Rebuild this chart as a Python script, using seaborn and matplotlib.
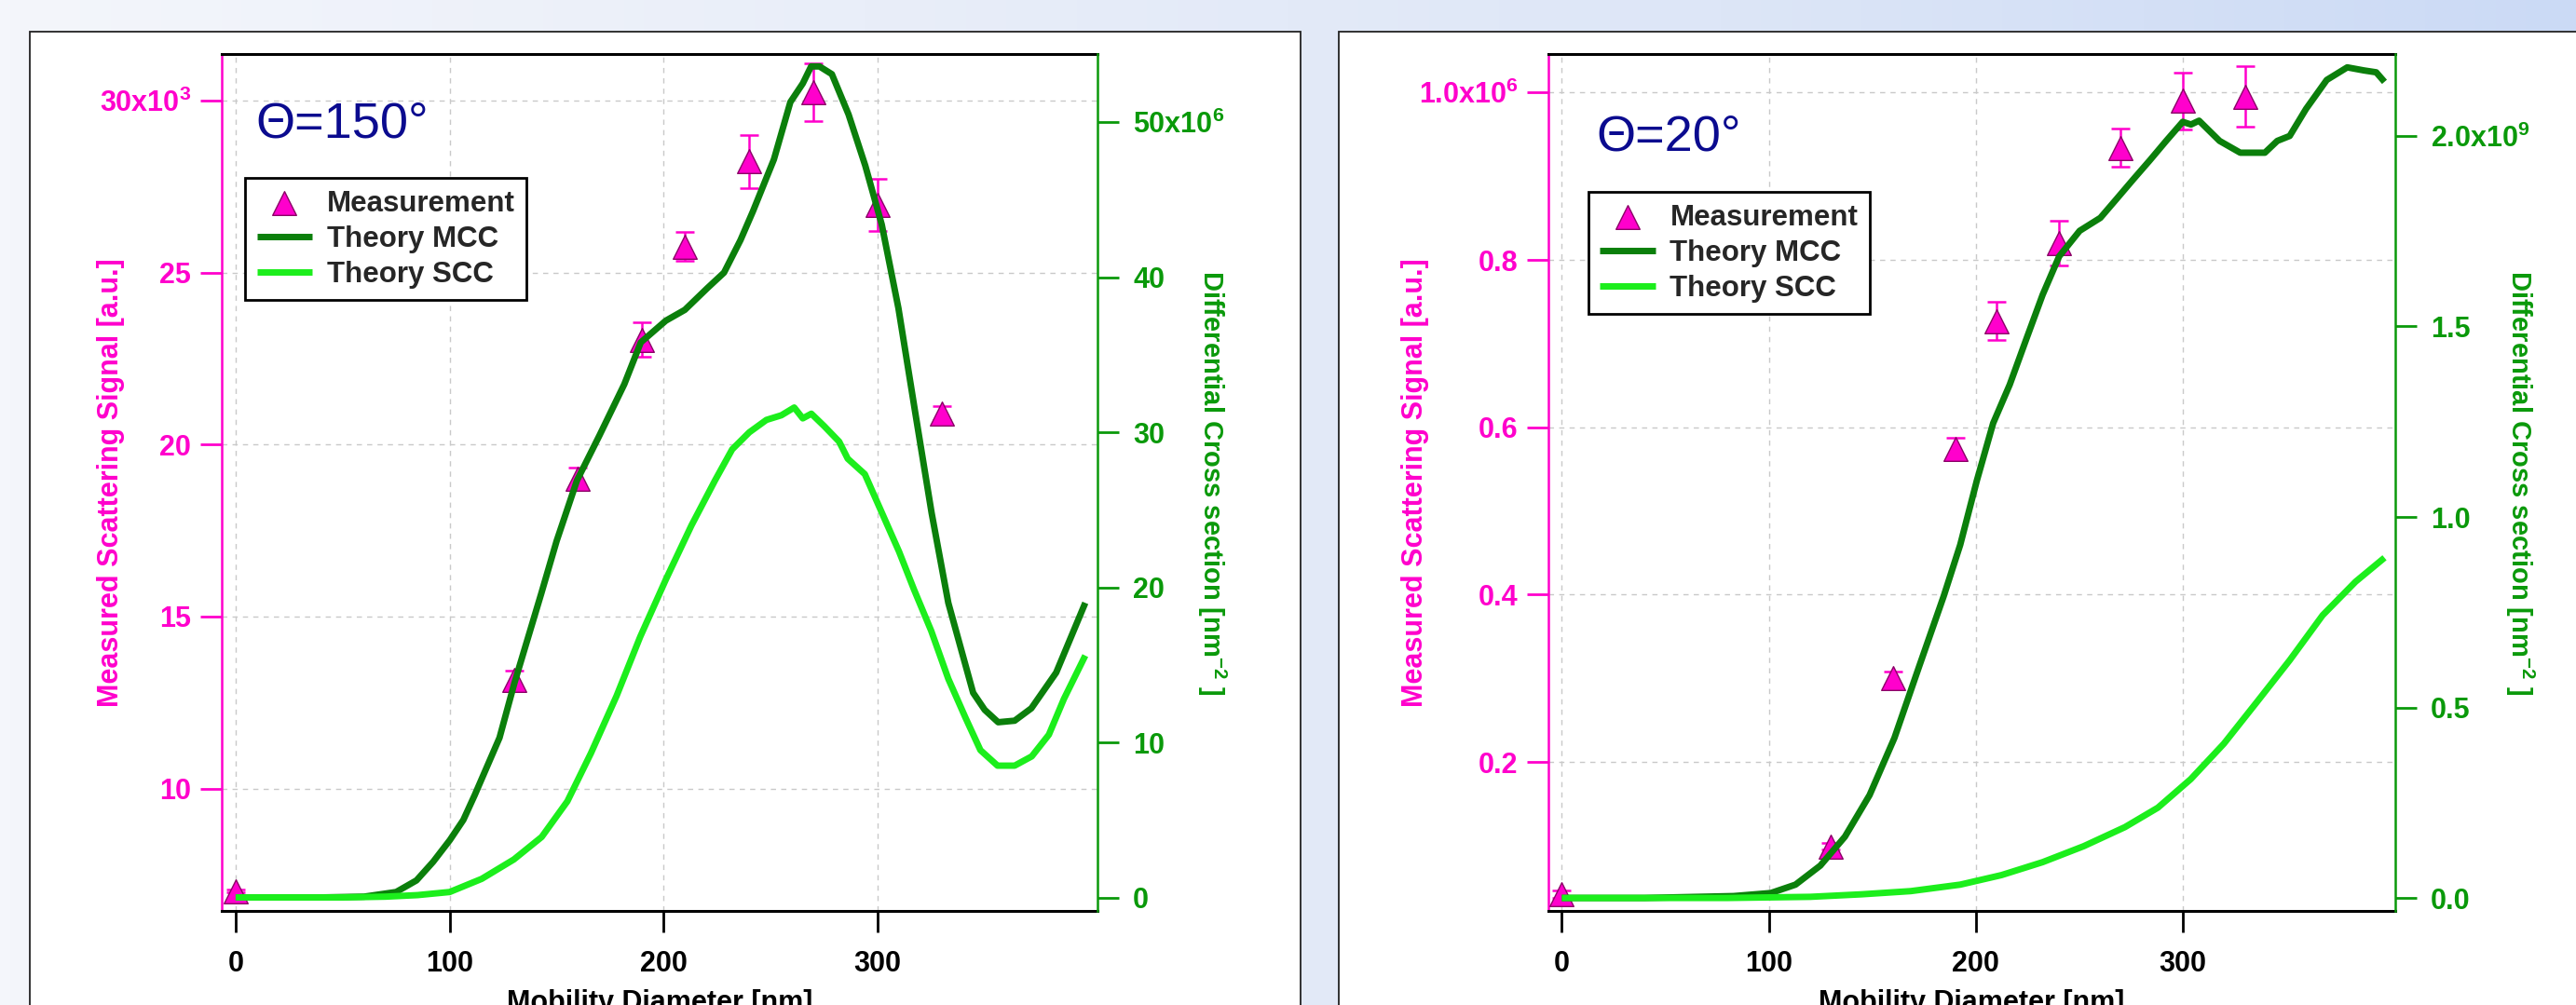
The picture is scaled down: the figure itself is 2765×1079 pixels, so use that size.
import numpy as np
import pandas as pd
import matplotlib
matplotlib.use("Agg")
import matplotlib.pyplot as plt
import seaborn as sns
from matplotlib.patches import Rectangle
from matplotlib.colors import LinearSegmentedColormap

# ---------------- data ----------------
# Theta = 150 deg panel
meas_d150 = [0, 130, 160, 190, 210, 240, 270, 300, 330]
meas_s150 = [7.02, 13.17, 19.0, 23.05, 25.76, 28.24, 30.24, 26.97, 20.91]      # x10^3 a.u.
meas_e150 = [0.05, 0.25, 0.33, 0.5, 0.42, 0.77, 0.84, 0.75, 0.2]

mcc_d150 = [0, 20, 40, 60, 75, 84.5, 92.3, 100.1, 106.4, 111.7, 123.3, 130.3, 142.8, 150, 159.5, 170, 181.6,
            189.3, 201, 209.9, 220.4, 228.2, 235.9, 241.7, 251.5, 259.2, 265, 268.9, 272.8, 278.6,
            286.4, 294.2, 301.9, 309.7, 317.4, 325.2, 333, 344.6, 350, 356.3, 364, 371.8, 383.4, 397]
mcc_v150 = [0, 0, 0, 0.05, 0.35, 1.1, 2.3, 3.7, 5.0, 6.6, 10.3, 13.85, 19.6, 23.0, 26.9, 29.8, 33.1,
            35.8, 37.2, 37.9, 39.3, 40.3, 42.4, 44.25, 47.6, 51.3, 52.5, 53.6, 53.6, 53.1,
            50.5, 47.2, 43.4, 38.0, 31.4, 24.8, 19.0, 13.2, 12.1, 11.3, 11.4, 12.2, 14.5, 19.0]  # x10^6 nm^-2

scc_d150 = [0, 50, 70, 85, 100, 115, 130, 143, 155, 166, 178, 189, 201, 213, 224, 232, 240, 248, 255,
            261, 265, 269, 275, 282, 286, 294, 302, 310, 317, 325, 333, 341, 348, 356, 364, 372,
            380, 387, 397]
scc_v150 = [0, 0, 0.05, 0.15, 0.35, 1.2, 2.45, 3.9, 6.2, 9.3, 13.0, 16.8, 20.5, 24.0, 26.9, 28.9, 30.0,
            30.8, 31.1, 31.6, 30.9, 31.2, 30.4, 29.4, 28.3, 27.3, 24.8, 22.3, 19.85, 17.2, 14.1, 11.6,
            9.5, 8.5, 8.5, 9.1, 10.5, 12.8, 15.6]

# Theta = 20 deg panel
meas_d20 = [0, 130, 160, 190, 210, 240, 270, 300, 330]
meas_s20 = [0.042, 0.099, 0.30, 0.574, 0.727, 0.82, 0.934, 0.990, 0.995]      # x10^6 a.u.
meas_e20 = [0.004, 0.004, 0.008, 0.013, 0.023, 0.027, 0.023, 0.034, 0.036]

mcc_d20 = [0, 40, 83, 101, 112.9, 124.9, 136.8, 148.7, 160.7, 172.6, 184.5, 192.5, 200.5, 208.4,
           216.4, 224.3, 232.3, 240.3, 250.2, 260.2, 268.1, 276.1, 284.1, 292, 300, 304, 307.9,
           317.8, 327.8, 339.7, 345.7, 351.7, 359.6, 369.6, 379.5, 387.5, 393.5, 397.5]
mcc_v20 = [0, 0, 0.005, 0.013, 0.035, 0.085, 0.161, 0.27, 0.42, 0.607, 0.792, 0.927, 1.095, 1.246,
           1.347, 1.465, 1.583, 1.684, 1.751, 1.785, 1.835, 1.886, 1.936, 1.987, 2.037, 2.03, 2.04,
           1.987, 1.956, 1.956, 1.987, 2.0, 2.071, 2.147, 2.18, 2.172, 2.167, 2.142]       # x10^9 nm^-2

scc_d20 = [0, 80, 120, 144.8, 168.6, 192.5, 212.4, 232.3, 252.2, 272.1, 288, 303.9, 319.9, 335.8,
           351.7, 367.6, 383.5, 397.5]
scc_v20 = [0, 0, 0.003, 0.0096, 0.018, 0.035, 0.06, 0.094, 0.136, 0.186, 0.237, 0.312, 0.405, 0.514,
           0.624, 0.742, 0.83, 0.893]

x_ticks = [0, 100, 200, 300]
x_ticklabels = ["0", "100", "200", "300"]
y150_ticks = [10, 15, 20, 25, 30]
y150_labels = ["10", "15", "20", "25", r"30x10$^{\mathbf{3}}$"]
y2_150_ticks = [0, 10, 20, 30, 40, 50]
y2_150_labels = ["0", "10", "20", "30", "40", r"50x10$^{\mathbf{6}}$"]
y20_ticks = [0.2, 0.4, 0.6, 0.8, 1.0]
y20_labels = ["0.2", "0.4", "0.6", "0.8", r"1.0x10$^{\mathbf{6}}$"]
y2_20_ticks = [0.0, 0.5, 1.0, 1.5, 2.0]
y2_20_labels = ["0.0", "0.5", "1.0", "1.5", r"2.0x10$^{\mathbf{9}}$"]

series_names = ["Measurement", "Theory MCC", "Theory SCC"]
x_label = "Mobility Diameter [nm]"
y_label = "Measured Scattering Signal [a.u.]"
y2_label = r"Differential Cross section [nm$^{\mathbf{-2}}$ ]"

# ---------------- style ----------------
sns.set_theme(style="ticks")
plt.rcParams["font.family"] = ["Liberation Sans", "DejaVu Sans"]
plt.rcParams["font.weight"] = "bold"
plt.rcParams["mathtext.fontset"] = "custom"
plt.rcParams["mathtext.rm"] = "Liberation Sans:bold"
plt.rcParams["mathtext.bf"] = "Liberation Sans:bold"
plt.rcParams["mathtext.it"] = "Liberation Sans:bold"

MAG = "#ff00cc"
MAG_EDGE = "#8a0066"
AX_GREEN = "#0a990a"
MCC_C = "#0b7f0b"
SCC_C = "#1cee1c"
NAVY = "#0b0b8f"

W, H = 2765, 1079
fig = plt.figure(figsize=(W / 100, H / 100), dpi=100)

# background gradient and white panels
bg = fig.add_axes([0, 0, 1, 1], zorder=-10)
cmap = LinearSegmentedColormap.from_list("bg", ["#f4f6fb", "#e9eef9", "#dde6f7", "#cbdaf5"])
bg.imshow(np.linspace(0, 1, 256)[None, :], aspect="auto", cmap=cmap, extent=[0, 1, 0, 1])
bg.set_axis_off()
for (x0, x1) in [(32, 1396), (1437, 2800)]:
    fig.add_artist(Rectangle((x0 / W, -0.05), (x1 - x0) / W, (1079 - 34) / H + 0.05,
                             transform=fig.transFigure, facecolor="white", edgecolor="#222222",
                             lw=1.3, zorder=-5))


def fax(l, t, r, b):
    return [l / W, 1 - b / H, (r - l) / W, (b - t) / H]


def panel(rect, md, ms, me, cd, cv, sd, sv, ylim, y2lim, yt, ytl, y2t, y2tl,
          title, tpos, leg_anchor, ylx, y2lx):
    ax = fig.add_axes(rect)
    ax.set_facecolor("white")
    ax.set_xlim(-6.5, 402.7)
    ax.set_ylim(*ylim)
    ax.grid(True, color="#c9c9c9", linestyle=(0, (4, 4)), linewidth=1.0)
    ax.set_axisbelow(True)

    meas = pd.DataFrame({"d": md, "s": ms, "e": me})
    ax.errorbar(meas["d"], meas["s"], yerr=meas["e"], fmt="none", ecolor=MAG,
                elinewidth=1.8, capsize=7, capthick=1.8, zorder=3)
    sns.scatterplot(data=meas, x="d", y="s", ax=ax, marker="^", s=340, color=MAG,
                    edgecolor=MAG_EDGE, linewidth=1.0, zorder=4, legend=False)
    sc = ax.collections[-1]

    ax2 = ax.twinx()
    ax2.set_ylim(*y2lim)
    mcc = pd.DataFrame({"d": cd, "v": cv})
    scc = pd.DataFrame({"d": sd, "v": sv})
    sns.lineplot(data=mcc, x="d", y="v", ax=ax2, color=MCC_C, linewidth=5, legend=False)
    sns.lineplot(data=scc, x="d", y="v", ax=ax2, color=SCC_C, linewidth=5, legend=False)
    for ln in ax2.lines:
        ln.set_solid_joinstyle("round")
        ln.set_solid_capstyle("butt")
    l1, l2 = ax2.lines[0], ax2.lines[1]
    ax2.grid(False)

    ax.set_xticks(x_ticks, labels=x_ticklabels)
    ax.set_yticks(yt, labels=ytl)
    ax2.set_yticks(y2t, labels=y2tl)
    ax.tick_params(axis="x", bottom=True, direction="out", length=16.5, width=2,
                   color="black", labelcolor="black", labelsize=22, pad=14)
    ax.tick_params(axis="y", left=True, right=False, direction="out", length=16.5, width=2,
                   color=MAG, labelcolor=MAG, labelsize=22, pad=7)
    ax2.tick_params(axis="y", right=True, direction="out", length=16.5, width=2,
                    color=AX_GREEN, labelcolor=AX_GREEN, labelsize=22, pad=11)

    for s in ["top", "bottom"]:
        ax.spines[s].set_color("black")
        ax.spines[s].set_linewidth(2.2)
        ax2.spines[s].set_visible(False)
    ax.spines["left"].set_color(MAG)
    ax.spines["left"].set_linewidth(1.8)
    ax.spines["right"].set_visible(False)
    ax2.spines["left"].set_visible(False)
    ax2.spines["right"].set_color(AX_GREEN)
    ax2.spines["right"].set_linewidth(1.8)

    ax.set_xlabel(x_label, fontsize=22, fontweight="bold", color="black")
    ax.xaxis.set_label_coords(0.5, -0.0913)
    ax.set_ylabel(y_label, fontsize=22, fontweight="bold", color=MAG)
    ax.yaxis.label.set_va("center")
    ax.yaxis.set_label_coords(ylx, 0.5)
    ax2.set_ylabel(y2_label, fontsize=21, fontweight="bold", color=AX_GREEN, rotation=270)
    ax2.yaxis.label.set_va("center")
    ax2.yaxis.set_label_coords(y2lx, 0.5)

    ax.text(tpos[0], tpos[1], title, transform=ax.transAxes, fontsize=39,
            fontweight="normal", color=NAVY, va="baseline", ha="left")

    leg = ax2.legend([sc, l1, l2], series_names, loc="upper left", bbox_to_anchor=leg_anchor,
                     borderaxespad=0, frameon=True, fancybox=False, framealpha=1,
                     edgecolor="black", prop=dict(weight="bold", size=22.5),
                     handlelength=1.9, borderpad=0.4, labelspacing=0.26, handletextpad=0.5)
    leg.get_frame().set_linewidth(2)
    return ax, ax2


panel(fax(238, 58, 1178, 978), meas_d150, meas_s150, meas_e150, mcc_d150, mcc_v150,
      scc_d150, scc_v150, (6.44, 31.36), (-0.87, 54.4), y150_ticks, y150_labels,
      y2_150_ticks, y2_150_labels, "Θ=150°", (0.039, 0.903), (0.0266, 0.8554), -0.1266, 1.1309)

panel(fax(1662, 58, 2571, 978), meas_d20, meas_s20, meas_e20, mcc_d20, mcc_v20,
      scc_d20, scc_v20, (0.022, 1.046), (-0.034, 2.215), y20_ticks, y20_labels,
      y2_20_ticks, y2_20_labels, "Θ=20°", (0.056, 0.887), (0.0473, 0.839), -0.1568, 1.1474)

fig.savefig("out.png", dpi=100)
